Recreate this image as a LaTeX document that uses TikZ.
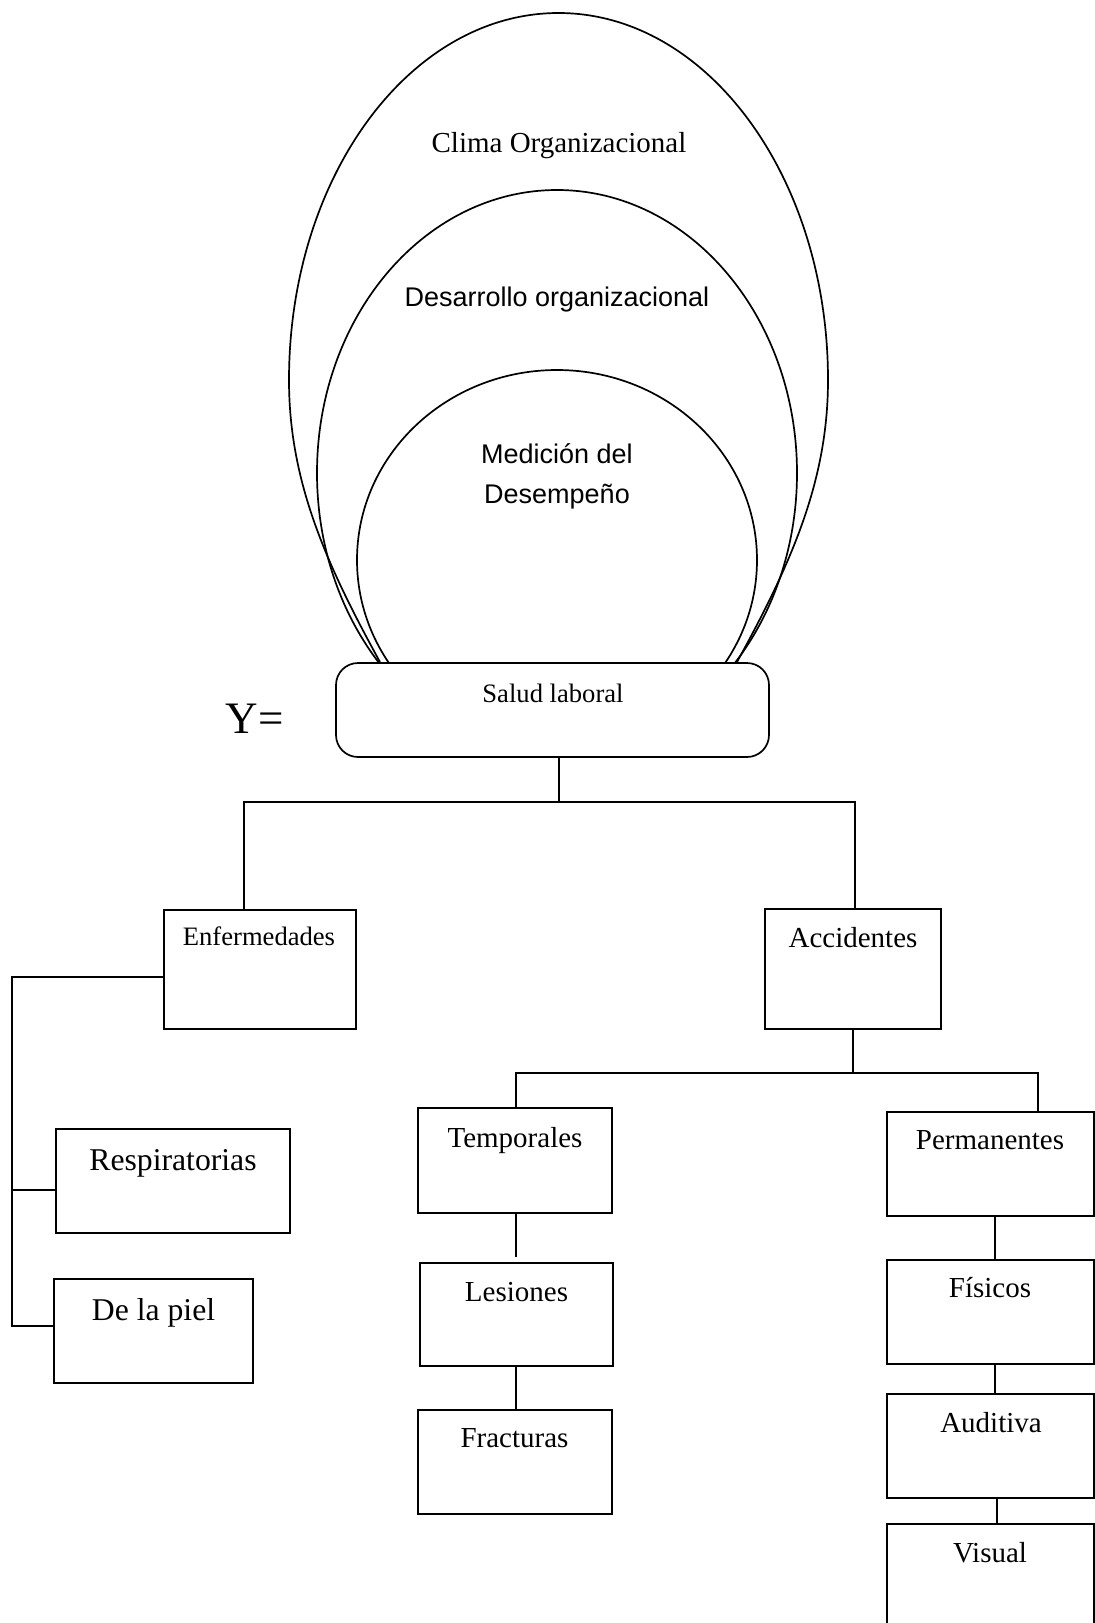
\documentclass[tikz,border=0pt]{standalone}
\usepackage{fontspec}
\setmainfont{Liberation Serif}
\setsansfont{Liberation Sans}
\begin{document}
\begin{tikzpicture}[x=1pt,y=-1pt,
  line width=1.7pt,
  box/.style={draw, line width=1.7pt, inner sep=0pt, outer sep=0pt, fill=white},
  lab/.style={anchor=base, inner sep=0pt},
  rm26/.style={font=\fontsize{26.6}{32}\selectfont},
  rm29/.style={font=\fontsize{29}{35}\selectfont},
  rm32/.style={font=\fontsize{31.7}{38}\selectfont},
  sf27/.style={font=\sffamily\fontsize{27}{33}\selectfont}]
\useasboundingbox (0,0) rectangle (1095,1623);

% nested ovals above the root box
\draw (380,662) .. controls (325,562) and (289,480) .. (289,380)
  arc[start angle=180, end angle=360, x radius=269.5, y radius=367]
  .. controls (828,480) and (792,562) .. (737,662);
\draw (557,473) ellipse[x radius=240, y radius=283];
\draw (557,560) ellipse[x radius=200, y radius=190];

\node[lab, rm29] (tclima) at (559,152) {Clima Organizacional};
\node[lab, sf27] (tdes) at (557,306) {Desarrollo organizacional};
\node[lab, sf27] (tmed1) at (557,463) {Medición del};
\node[lab, sf27] (tmed2) at (557,503) {Desempeño};

% root
\node[box, rounded corners=22pt, minimum width=433pt, minimum height=94pt] (sal) at (552.5,710) {};
\node[lab, rm26] (tsal) at (553,702) {Salud laboral};
\node[lab, font=\fontsize{45}{54}\selectfont] (ty) at (254.5,733) {Y=};

% second level
\node[box, minimum width=192pt, minimum height=119pt] (enf) at (260,969.5) {};
\node[lab, rm26] (tenf) at (259,945) {Enfermedades};
\node[box, minimum width=176pt, minimum height=120pt] (acc) at (853,969) {};
\node[lab, rm29] (tacc) at (853,947) {Accidentes};

% diseases
\node[box, minimum width=234pt, minimum height=104pt] (resp) at (173,1181) {};
\node[lab, rm32] (tresp) at (173,1170) {Respiratorias};
\node[box, minimum width=199pt, minimum height=104pt] (piel) at (153.5,1331) {};
\node[lab, rm32] (tpiel) at (153.5,1320) {De la piel};

% temporary accidents
\node[box, minimum width=194pt, minimum height=105pt] (temp) at (515,1160.5) {};
\node[lab, rm29] (ttemp) at (515,1147) {Temporales};
\node[box, minimum width=193pt, minimum height=103pt] (les) at (516.5,1314.5) {};
\node[lab, rm29] (tles) at (516.5,1301) {Lesiones};
\node[box, minimum width=194pt, minimum height=104pt] (frac) at (515,1462) {};
\node[lab, rm29] (tfrac) at (514.5,1447) {Fracturas};

% permanent accidents
\node[box, minimum width=207pt, minimum height=104pt] (perm) at (990.5,1164) {};
\node[lab, rm29] (tperm) at (990,1149) {Permanentes};
\node[box, minimum width=207pt, minimum height=104pt] (fis) at (990.5,1312) {};
\node[lab, rm29] (tfis) at (990,1297) {Físicos};
\node[box, minimum width=207pt, minimum height=104pt] (aud) at (990.5,1446) {};
\node[lab, rm29] (taud) at (991,1432) {Auditiva};
\node[box, minimum width=207pt, minimum height=116pt] (vis) at (990.5,1582) {};
\node[lab, rm29] (tvis) at (990,1562) {Visual};

% connector guide points
\coordinate (c1) at (559,802);
\coordinate (cl) at (244,802);
\coordinate (cr) at (855,802);
\coordinate (e0) at (12,977);
\coordinate (e1) at (12,1190);
\coordinate (e2) at (12,1326);
\coordinate (a1) at (853,1073);
\coordinate (al) at (516,1073);
\coordinate (ar) at (1038,1073);
\coordinate (xp) at (995,0);
\coordinate (xa) at (997,0);

% root to second level
\draw (sal.south -| c1) -- (c1);
\draw (enf.north -| cl) -- (cl) -- (cr) -- (acc.north -| cr);

% diseases bus
\draw (enf.west |- e0) -- (e0) -- (e2) -- (piel.west |- e2);
\draw (e1) -- (resp.west |- e1);

% accidents bus
\draw (acc.south -| a1) -- (a1);
\draw (temp.north -| al) -- (al) -- (ar) -- (perm.north -| ar);

% chains
\draw (temp.south -| al) -- ([yshift=6pt]les.north -| al);
\draw (les.south -| al) -- (frac.north -| al);
\draw (perm.south -| xp) -- (fis.north -| xp);
\draw (fis.south -| xp) -- (aud.north -| xp);
\draw (aud.south -| xa) -- (vis.north -| xa);
\end{tikzpicture}
\end{document}
